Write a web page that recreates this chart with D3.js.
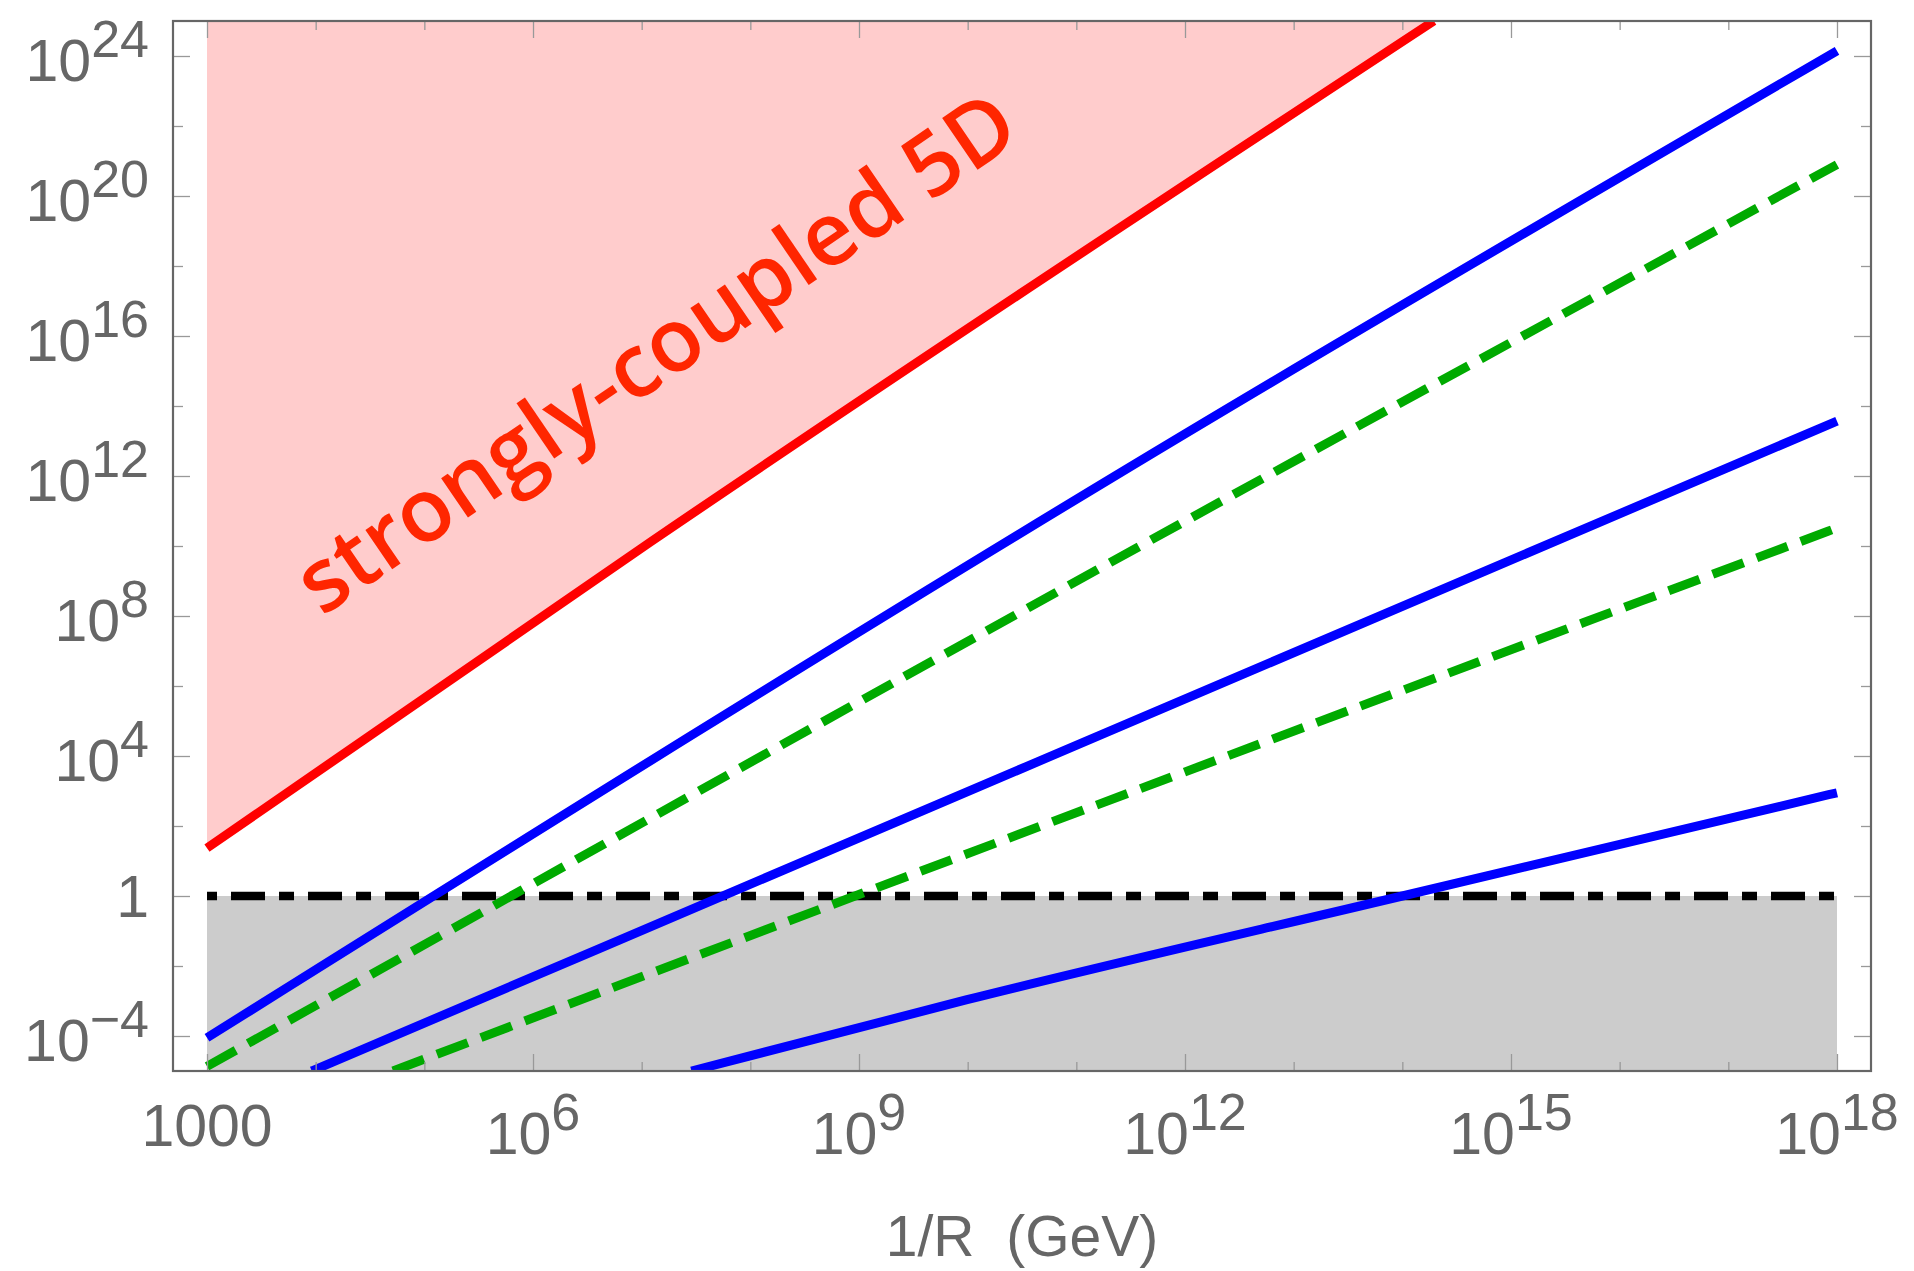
<!DOCTYPE html>
<html>
<head>
<meta charset="utf-8">
<script src="https://cdn.jsdelivr.net/npm/d3@7"></script>
<style>
  body { margin: 0; background: #fff; }
  text { font-family: "Liberation Sans", Arial, sans-serif; fill: #666; }
</style>
</head>
<body>
<div id="chart"></div>
<script>
// ---------------  DATA  ---------------
// x = 1/R (GeV), y
const redX = [1e3, 1.2e7, 1.95e14];
const redY = [23.4, 1.29e10, 1e25];

const blue1X = [1e3, 1e12, 1e18];
const blue1Y = [8.9e-5, 1.6e13, 1.41e24];

const green1X = [1e3, 4.8e11, 1e18];
const green1Y = [1.35e-5, 1.45e10, 7.9e20];

const blue2X = [9.2e3, 4.13e6, 1e18];
const blue2Y = [1e-5, 3.2e-2, 3.7e13];

const green2X = [5.15e4, 5.2e6, 1e18];
const green2Y = [1e-5, 2.3e-3, 3.3e10];

const blue3X = [2.87e7, 9.66e9, 1e14, 1e18];
const blue3Y = [1e-5, 1.07e-3, 1, 891];

const unitX = [1e3, 1e18];   // dash-dot line at 1 and grey band below it
const unitY = 1;

const xMajor = [1e3, 1e6, 1e9, 1e12, 1e15, 1e18];
const xMinor = [1e4, 1e5, 1e7, 1e8, 1e10, 1e11, 1e13, 1e14, 1e16, 1e17];
const xLabels = ["1000", "6", "9", "12", "15", "18"];
const yMajor = [1e-4, 1, 1e4, 1e8, 1e12, 1e16, 1e20, 1e24];
const yMinor = [1e-2, 1e2, 1e6, 1e10, 1e14, 1e18, 1e22];
const yLabels = ["\u22124", "", "4", "8", "12", "16", "20", "24"];

const zip = (xs, ys) => xs.map((x, i) => ({ x: x, y: ys[i] }));

// ---------------  SIZING  ---------------
const w = 1914, h = 1271;
const padLeft = 173, padRight = 1871, padTop = 21, padBottom = 1071;

const x = d3.scaleLog().domain([Math.pow(10, 2.687), Math.pow(10, 18.313)]).range([padLeft, padRight]);
const y = d3.scaleLog().domain([1e-5, 1e25]).range([padBottom, padTop]);

const svg = d3.select("#chart").append("svg").attr("width", w).attr("height", h);

svg.append("clipPath").attr("id", "plot")
  .append("rect").attr("x", padLeft).attr("y", padTop)
  .attr("width", padRight - padLeft).attr("height", padBottom - padTop);

const plot = svg.append("g").attr("clip-path", "url(#plot)");

// pink region above the red line
plot.append("path")
  .datum(zip(redX, redY))
  .attr("fill", "#ffcccc")
  .attr("d", d3.area().curve(d3.curveMonotoneX).x(d => x(d.x)).y0(y(1e25)).y1(d => y(d.y)));

// grey region below 1
plot.append("path")
  .datum(unitX.map(v => ({ x: v })))
  .attr("fill", "#cccccc")
  .attr("d", d3.area().x(d => x(d.x)).y0(y(1e-5)).y1(y(unitY)));

const line = d3.line().curve(d3.curveMonotoneX).x(d => x(d.x)).y(d => y(d.y));

// dash-dot at 1
plot.append("path")
  .datum(unitX.map(v => ({ x: v, y: unitY })))
  .attr("fill", "none").attr("stroke", "#000").attr("stroke-width", 8.5)
  .attr("stroke-dasharray", "15,14,34,14")
  .attr("stroke-dashoffset", 5)
  .attr("d", line);

const series = [
  { d: zip(redX, redY), c: "#ff0000", dash: null },
  { d: zip(blue1X, blue1Y), c: "#0000ff", dash: null },
  { d: zip(blue2X, blue2Y), c: "#0000ff", dash: null },
  { d: zip(blue3X, blue3Y), c: "#0000ff", dash: null },
  { d: zip(green1X, green1Y), c: "#00aa00", dash: "33,14" },
  { d: zip(green2X, green2Y), c: "#00aa00", dash: "33,14" }
];

series.forEach(s => {
  plot.append("path")
    .datum(s.d)
    .attr("fill", "none")
    .attr("stroke", s.c)
    .attr("stroke-width", 9)
    .attr("stroke-dasharray", s.dash)
    .attr("d", line);
});

// ---------------  FRAME & TICKS  ---------------
function ticks(axis, tr, vals, size) {
  const g = svg.append("g").attr("transform", tr)
    .call(axis.tickValues(vals).tickSize(-size).tickFormat(""));
  g.select(".domain").remove();
  g.selectAll(".tick line").attr("stroke", "#999").attr("stroke-width", 1.3);
}
ticks(d3.axisBottom(x), "translate(0," + padBottom + ")", xMajor, 17);
ticks(d3.axisBottom(x), "translate(0," + padBottom + ")", xMinor, 9);
ticks(d3.axisTop(x), "translate(0," + padTop + ")", xMajor, 17);
ticks(d3.axisTop(x), "translate(0," + padTop + ")", xMinor, 9);
ticks(d3.axisLeft(y), "translate(" + padLeft + ",0)", yMajor, 17);
ticks(d3.axisLeft(y), "translate(" + padLeft + ",0)", yMinor, 10);
ticks(d3.axisRight(y), "translate(" + padRight + ",0)", yMajor, 17);
ticks(d3.axisRight(y), "translate(" + padRight + ",0)", yMinor, 10);

svg.append("rect")
  .attr("x", padLeft).attr("y", padTop)
  .attr("width", padRight - padLeft).attr("height", padBottom - padTop)
  .attr("fill", "none").attr("stroke", "#666").attr("stroke-width", 2.2);

// ---------------  LABELS  ---------------
xMajor.forEach((v, i) => {
  const t = svg.append("text").attr("x", x(v)).attr("text-anchor", "middle")
    .style("font-size", "59px");
  if (i === 0) {
    t.attr("y", 1146).text(xLabels[i]);
  } else {
    t.attr("y", 1154);
    t.append("tspan").text("10");
    t.append("tspan").attr("dy", -24).style("font-size", "52px").text(xLabels[i]);
  }
});

yMajor.forEach((v, i) => {
  const t = svg.append("text").attr("x", 149).attr("text-anchor", "end")
    .style("font-size", "59px");
  if (yLabels[i] === "") {
    t.attr("y", y(v) + 21).text("1");
  } else {
    t.attr("y", y(v) + 25);
    t.append("tspan").text("10");
    t.append("tspan").attr("dy", -24).style("font-size", "52px").text(yLabels[i]);
  }
});

svg.append("text")
  .attr("x", (padLeft + padRight) / 2).attr("y", 1256)
  .attr("text-anchor", "middle")
  .style("font-size", "57px")
  .style("white-space", "pre")
  .text("1/R  (GeV)");

// annotation in the pink region
svg.append("text")
  .attr("transform", "translate(322,617) rotate(-34.3)")
  .style("font-family", "'Open Sans', sans-serif")
  .style("font-weight", "600")
  .style("font-size", "88px")
  .style("fill", "#ff2600")
  .text("strongly-coupled 5D");
</script>
</body>
</html>
